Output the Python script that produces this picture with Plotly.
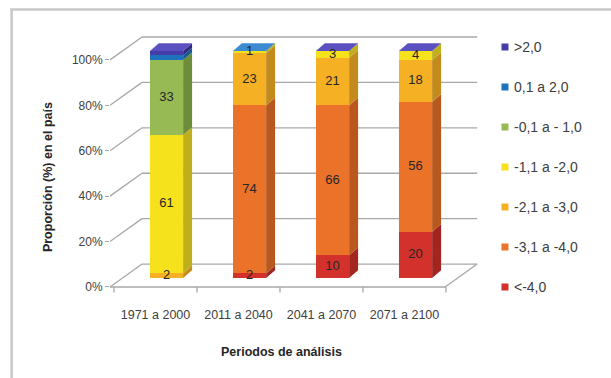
import plotly.graph_objects as go

# ---- data -------------------------------------------------------------
periods = ["1971 a 2000", "2011 a 2040", "2041 a 2070", "2071 a 2100"]

# series listed bottom-to-top of each stacked column
series_names = ["<-4,0", "-3,1 a -4,0", "-2,1 a -3,0", "-1,1 a -2,0",
                "-0,1 a - 1,0", "0,1 a 2,0", ">2,0"]
below_m4 = [0, 2, 10, 20]
m31_m40 = [0, 74, 66, 56]
m21_m30 = [2, 23, 21, 18]
m11_m20 = [61, 1, 3, 4]
m01_m10 = [33, 0, 0, 0]
p01_p20 = [2, 0, 0, 0]
above_p2 = [2, None, 0, 0]
show_label = [True, True, True, True, True, False, False]

y_ticks = [0, 20, 40, 60, 80, 100]
y_tick_text = ["0%", "20%", "40%", "60%", "80%", "100%"]

series_values = [below_m4, m31_m40, m21_m30, m11_m20, m01_m10, p01_p20, above_p2]

# ---- styling ----------------------------------------------------------
face_col = ["#D3312B", "#EB7229", "#F5B024", "#F6E11D", "#97BA55", "#1E73BC", "#463DA8"]
side_col = ["#A3251F", "#B9581E", "#C38A1C", "#BFAF1D", "#6E8D3B", "#165A94", "#312A80"]
top_col = ["#E05A54", "#F29155", "#F8C457", "#FAEA5A", "#AECA7C", "#3C8BD0", "#5A50C0"]
grid_col = "#A8A8A8"
text_col = "#404040"
FONT = "Liberation Sans, Arial, sans-serif"

W, H = 611, 378
PL, PR, PT, PB = 110, 483.5, 22, 297          # plot-area box (px)
X_RANGE = [-0.548, 3.946]
Y_RANGE = [-4.41, 116.7]

# oblique projection offsets (data units)
WALL_DX, WALL_DY = 0.386, 10.1                # depth of the whole box
BAR_DX, BAR_DY = 0.133, 3.96                  # where the column fronts sit
SIDE_DX, SIDE_DY = 0.108, 3.4                 # column thickness
BAR_W = 0.40
XL, XR = -0.548, 3.49                         # floor front edge

# legend block (px)
LEG_X, LEG_Y0, LEG_STEP, LEG_BOX = 505.5, 47, 40, 7


def paper_x(px):
    return (px - PL) / (PR - PL)


def paper_y(py):
    return (PB - py) / (PB - PT)


fig = go.Figure()

# ---- column faces -----------------------------------------------------
n = len(periods)
totals = [sum(s[i] for s in series_values if s[i] is not None) for i in range(n)]
cum = [0.0] * n
top_series = [max(k for k, s in enumerate(series_values) if s[i] is not None) for i in range(n)]

label_x, label_y, label_t = [], [], []
for k, vals in enumerate(series_values):
    bx, by, bb = [], [], []
    sx, sy = [], []
    for i in range(n):
        v = vals[i]
        if v is None:
            continue
        h = v / totals[i] * 100.0
        lo = cum[i]
        hi = lo + h
        cum[i] = hi
        xc = i + BAR_DX
        bx.append(xc)
        by.append(h)
        bb.append(lo + BAR_DY)
        if h > 0:
            xr = xc + BAR_W / 2
            sx += [xr, xr + SIDE_DX, xr + SIDE_DX, xr, xr, None]
            sy += [lo + BAR_DY, lo + BAR_DY + SIDE_DY, hi + BAR_DY + SIDE_DY,
                   hi + BAR_DY, lo + BAR_DY, None]
        if show_label[k] and v > 0:
            label_x.append(xc)
            label_y.append((lo + hi) / 2 + BAR_DY)
            label_t.append(str(v))
    fig.add_trace(go.Bar(x=bx, y=by, base=bb, width=BAR_W, name=series_names[k],
                         marker=dict(color=face_col[k], line=dict(width=0)),
                         showlegend=False, hoverinfo="skip"))
    if sx:
        fig.add_trace(go.Scatter(x=sx, y=sy, mode="lines", fill="toself",
                                 fillcolor=side_col[k], line=dict(width=0),
                                 showlegend=False, hoverinfo="skip"))

# lid of each column, coloured after its uppermost series
for i in range(n):
    k = top_series[i]
    t = cum[i] + BAR_DY
    xl = i + BAR_DX - BAR_W / 2
    xr = i + BAR_DX + BAR_W / 2
    fig.add_trace(go.Scatter(
        x=[xl, xr, xr + SIDE_DX, xl + SIDE_DX, xl],
        y=[t, t, t + SIDE_DY, t + SIDE_DY, t],
        mode="lines", fill="toself", fillcolor=top_col[k],
        line=dict(width=0), showlegend=False, hoverinfo="skip"))

# data labels
fig.add_trace(go.Scatter(x=label_x, y=label_y, text=label_t, mode="text",
                         textfont=dict(family=FONT, size=13, color="#262626"),
                         showlegend=False, hoverinfo="skip"))

# ---- walls and floor --------------------------------------------------
shapes = []
line = dict(color=grid_col, width=1.3)
for v in y_ticks:
    shapes.append(dict(type="line", xref="x", yref="y", layer="below",
                       x0=XL + WALL_DX, x1=XR + WALL_DX, y0=v + WALL_DY, y1=v + WALL_DY, line=line))
    shapes.append(dict(type="line", xref="x", yref="y", layer="below",
                       x0=XL, x1=XL + WALL_DX, y0=v, y1=v + WALL_DY, line=line))
shapes.append(dict(type="line", xref="x", yref="y", layer="below",
                   x0=XL, x1=XR, y0=0, y1=0, line=line))
shapes.append(dict(type="line", xref="x", yref="y", layer="below",
                   x0=XR, x1=XR + WALL_DX, y0=0, y1=WALL_DY, line=line))
for b in [-0.5, 0.5, 1.5, 2.5, 3.5]:
    shapes.append(dict(type="line", xref="x", yref="y", layer="below",
                       x0=b, x1=b, y0=0, y1=-2.4, line=line))

# chart frame
frame = dict(color="#C8C8C8", width=2.5)
shapes.append(dict(type="line", xref="paper", yref="paper",
                   x0=paper_x(10), x1=paper_x(W + 2), y0=paper_y(9.5), y1=paper_y(9.5), line=frame))
shapes.append(dict(type="line", xref="paper", yref="paper",
                   x0=paper_x(11.5), x1=paper_x(11.5), y0=paper_y(9), y1=paper_y(H + 2), line=frame))

annotations = [
    dict(text="<b>Periodos de análisis</b>", xref="paper", yref="paper",
         x=paper_x(282), y=paper_y(352), xanchor="center", yanchor="middle",
         showarrow=False, font=dict(family=FONT, size=12.5, color="#262626")),
    dict(text="<b>Proporción (%) en el país</b>", xref="paper", yref="paper",
         x=paper_x(48), y=paper_y(177), xanchor="center", yanchor="middle",
         showarrow=False, textangle=-90,
         font=dict(family=FONT, size=12.5, color="#262626")),
]

# legend: top series first
for j, k in enumerate(range(len(series_names) - 1, -1, -1)):
    cy = LEG_Y0 + j * LEG_STEP
    shapes.append(dict(type="rect", xref="paper", yref="paper", layer="above",
                       x0=paper_x(LEG_X - LEG_BOX / 2), x1=paper_x(LEG_X + LEG_BOX / 2),
                       y0=paper_y(cy + LEG_BOX / 2), y1=paper_y(cy - LEG_BOX / 2),
                       fillcolor=face_col[k], line=dict(width=0)))
    annotations.append(dict(text=series_names[k].replace("<", "&lt;").replace(">", "&gt;"),
                            xref="paper", yref="paper",
                            x=paper_x(LEG_X + 7.5), y=paper_y(cy),
                            xanchor="left", yanchor="middle", showarrow=False,
                            font=dict(family=FONT, size=14, color=text_col)))

fig.update_layout(
    width=W, height=H,
    margin=dict(l=PL, r=W - PR, t=PT, b=H - PB),
    paper_bgcolor="white", plot_bgcolor="white",
    barmode="overlay", bargap=0, showlegend=False,
    font=dict(family=FONT, size=12, color=text_col),
    shapes=shapes, annotations=annotations,
    xaxis=dict(range=X_RANGE, tickvals=list(range(n)), ticktext=periods,
               showgrid=False, zeroline=False, showline=False, ticks="",
               ticklabelstandoff=8,
               tickfont=dict(size=12.5, color=text_col), fixedrange=True),
    yaxis=dict(range=Y_RANGE, tickvals=y_ticks, ticktext=y_tick_text,
               showgrid=False, zeroline=False, showline=False,
               ticks="outside", ticklen=4, tickcolor=grid_col,
               tickfont=dict(size=12, color=text_col), fixedrange=True),
)

fig.write_html("out.html")
